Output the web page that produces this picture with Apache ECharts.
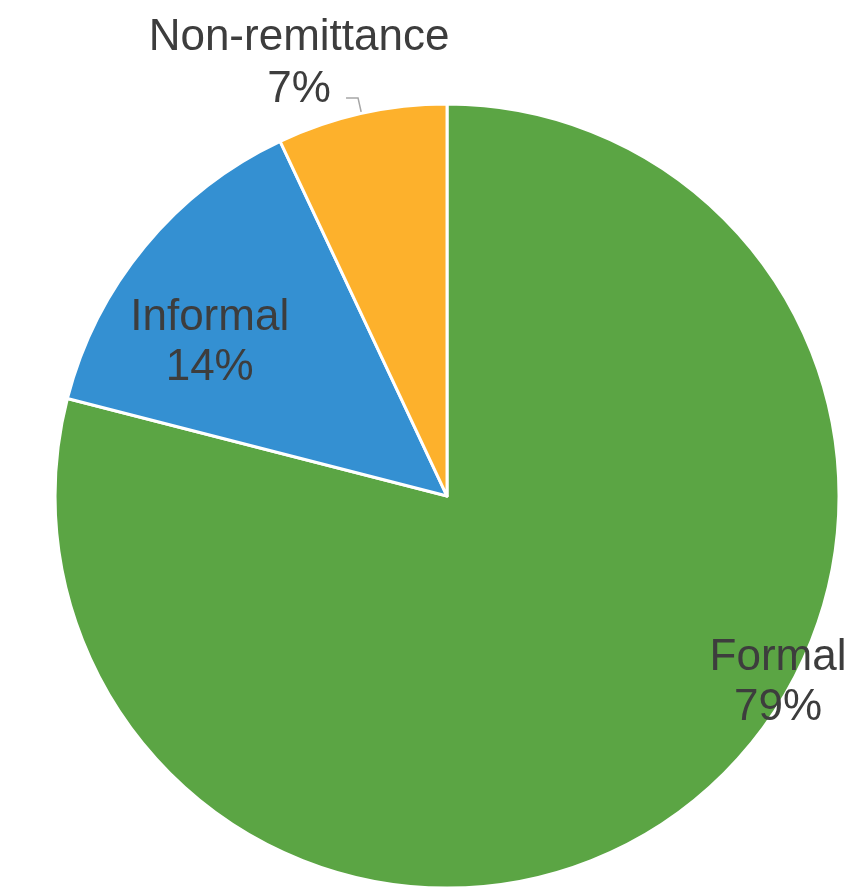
<!DOCTYPE html>
<html>
<head>
<meta charset="utf-8">
<script src="https://cdn.jsdelivr.net/npm/echarts@6/dist/echarts.min.js"></script>
<style>
  html, body { margin: 0; padding: 0; background: #ffffff; }
  #chart { width: 862px; height: 889px; }
</style>
</head>
<body>
<div id="chart"></div>
<script>
// Remittance channel shares
const categories = ['Formal', 'Informal', 'Non-remittance'];
const shares = [79, 14, 7];
const sliceColors = ['#5ba544', '#3490d2', '#fdb12c'];

// Per-slice label nudges (relative to the library's default placement)
const labelShift = {
  'Formal': [209, 30],
  'Informal': [-84, -26],
  'Non-remittance': [-42, -34]
};

const chart = echarts.init(document.getElementById('chart'), null, { renderer: 'canvas' });

const labelFont = {
  fontFamily: 'Liberation Sans, Arial, sans-serif',
  fontSize: 44,
  lineHeight: 50,
  color: '#3d3d3d'
};

const data = categories.map((name, i) => {
  const item = {
    name: name,
    value: shares[i],
    itemStyle: { color: sliceColors[i] }
  };
  if (name === 'Non-remittance') {
    item.label = Object.assign({ position: 'outside' }, labelFont, { lineHeight: 52 });
    item.labelLine = {
      show: true,
      length: 16,
      length2: 12,
      lineStyle: { color: '#a6a6a6', width: 1.5 }
    };
  } else {
    item.label = Object.assign({ position: 'inside' }, labelFont);
    item.labelLine = { show: false };
  }
  return item;
});

chart.setOption({
  backgroundColor: '#ffffff',
  animation: false,
  series: [{
    type: 'pie',
    center: ['51.86%', '55.8%'],
    radius: 392,
    startAngle: 90,
    clockwise: true,
    percentPrecision: 0,
    avoidLabelOverlap: false,
    itemStyle: { borderColor: '#ffffff', borderWidth: 3 },
    label: {
      show: true,
      formatter: '{b}\n{d}%'
    },
    labelLayout: function (params) {
      const name = categories[params.dataIndex];
      const s = labelShift[name] || [0, 0];
      const out = { dx: s[0], dy: s[1] };
      if (name === 'Non-remittance') {
        out.align = 'center';
      }
      return out;
    },
    data: data
  }]
});
</script>
</body>
</html>
